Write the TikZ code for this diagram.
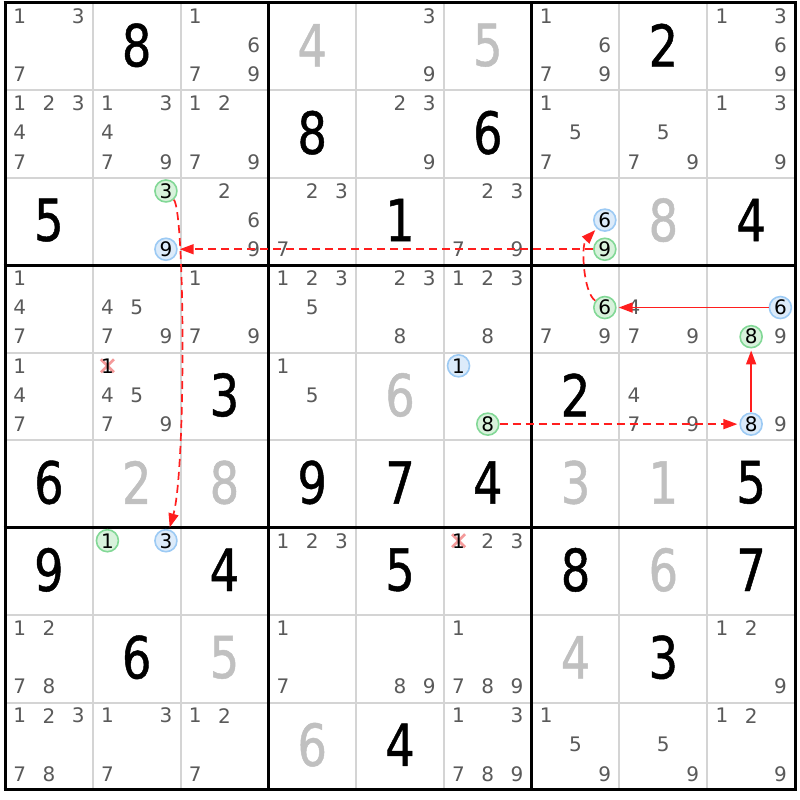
\documentclass[tikz,border=0pt]{standalone}
\usepackage{fontspec}
\setmainfont{DejaVu Sans}
\newfontfamily\bigfont[FakeStretch=0.8,FakeBold=0.8]{DejaVu Sans}
\usetikzlibrary{arrows.meta,calc}
\definecolor{candgray}{HTML}{5A5A5A}
\definecolor{solvedgray}{HTML}{C0C0C0}
\definecolor{thingray}{HTML}{D4D4D4}
\definecolor{bluefill}{HTML}{DCEBFA}
\definecolor{bluedraw}{HTML}{9CCAF4}
\definecolor{greenfill}{HTML}{D8F2DC}
\definecolor{greendraw}{HTML}{82D896}
\definecolor{linkred}{HTML}{FF1E1E}
\definecolor{crosspink}{HTML}{F49A9A}
\newcommand\cpos[3]{%
  \pgfmathsetmacro\cx{5+(#2-1)*87.78+(2*mod(#3-1,3)+1)*87.78/6}%
  \pgfmathsetmacro\cy{3+(#1-1)*87.44+(2*floor((#3-1)/3)+1)*87.44/6-1.5}}
\newcommand\cands[3]{\foreach \k in {#3}{\cpos{#1}{#2}{\k}\node[cand] (c#1#2\k) at (\cx,\cy) {\k};}}
\newcommand\gdig[4]{%
  \pgfmathsetmacro\cx{5+(#2-0.5)*87.78}%
  \pgfmathsetmacro\cy{3+(#1-0.5)*87.44-1.5}%
  \node[#4] (d#1#2) at (\cx,\cy) {#3};}
\newcommand\mcand[5]{\cpos{#1}{#2}{#3}\node[#4] (#5) at (\cx,\cy) {#3};}
\newcommand\xcand[3]{\cpos{#1}{#2}{#3}%
  \draw[crossx] (\cx-6.5,\cy-6.5) -- (\cx+6.5,\cy+6.5) (\cx-6.5,\cy+6.5) -- (\cx+6.5,\cy-6.5);
  \node[cand,text=black] (x#1#2) at (\cx,\cy) {#3};}
\begin{document}
\begin{tikzpicture}[x=1pt,y=-1pt,
  cand/.style={font=\fontsize{20}{20}\selectfont, text=candgray, inner sep=0pt},
  given/.style={font=\bigfont\fontsize{58}{58}\selectfont, text=black, inner sep=0pt},
  solved/.style={given, text=solvedgray},
  bluec/.style={circle, draw=bluedraw, fill=bluefill, line width=1.6pt, minimum size=22pt, inner sep=0pt, font=\fontsize{20}{20}\selectfont, text=black},
  greenc/.style={bluec, draw=greendraw, fill=greenfill},
  crossx/.style={draw=crosspink, line width=2.8pt},
  thinline/.style={draw=thingray, line width=2pt},
  thickline/.style={draw=black, line width=3pt},
  link/.style={color=linkred, line width=1.7pt, -{Triangle[length=14pt,width=10pt]}, shorten >=2pt},
  dlink/.style={link, dash pattern=on 8pt off 5pt}]
\fill[white] (0,0) rectangle (800,800);
\useasboundingbox (0,0) rectangle (800,800);
% grid
\foreach \i in {1,2,4,5,7,8}{
  \draw[thinline] (5+\i*87.78,3) -- (5+\i*87.78,789.96);
  \draw[thinline] (5,3+\i*87.44) -- (794.02,3+\i*87.44);}
\foreach \i in {0,3,6,9}{
  \draw[thickline] (5+\i*87.78,1.5) -- (5+\i*87.78,791.46);
  \draw[thickline] (3.5,3+\i*87.44) -- (795.52,3+\i*87.44);}
% givens (black) and solved (gray)
\gdig{1}{2}{8}{given}\gdig{1}{8}{2}{given}\gdig{2}{4}{8}{given}\gdig{2}{6}{6}{given}
\gdig{3}{1}{5}{given}\gdig{3}{5}{1}{given}\gdig{3}{9}{4}{given}\gdig{5}{3}{3}{given}
\gdig{5}{7}{2}{given}\gdig{6}{1}{6}{given}\gdig{6}{4}{9}{given}\gdig{6}{5}{7}{given}
\gdig{6}{6}{4}{given}\gdig{6}{9}{5}{given}\gdig{7}{1}{9}{given}\gdig{7}{3}{4}{given}
\gdig{7}{5}{5}{given}\gdig{7}{7}{8}{given}\gdig{7}{9}{7}{given}\gdig{8}{2}{6}{given}
\gdig{8}{8}{3}{given}\gdig{9}{5}{4}{given}
\gdig{1}{4}{4}{solved}\gdig{1}{6}{5}{solved}\gdig{3}{8}{8}{solved}\gdig{5}{5}{6}{solved}
\gdig{6}{2}{2}{solved}\gdig{6}{3}{8}{solved}\gdig{6}{7}{3}{solved}\gdig{6}{8}{1}{solved}
\gdig{7}{8}{6}{solved}\gdig{8}{3}{5}{solved}\gdig{8}{7}{4}{solved}\gdig{9}{4}{6}{solved}
% candidates
\cands{1}{1}{1,3,7}\cands{1}{3}{1,6,7,9}\cands{1}{5}{3,9}\cands{1}{7}{1,6,7,9}\cands{1}{9}{1,3,6,9}
\cands{2}{1}{1,2,3,4,7}\cands{2}{2}{1,3,4,7,9}\cands{2}{3}{1,2,7,9}\cands{2}{5}{2,3,9}
\cands{2}{7}{1,5,7}\cands{2}{8}{5,7,9}\cands{2}{9}{1,3,9}
\cands{3}{3}{2,6,9}\cands{3}{4}{2,3,7}\cands{3}{6}{2,3,7,9}
\cands{4}{1}{1,4,7}\cands{4}{2}{4,5,7,9}\cands{4}{3}{1,7,9}\cands{4}{4}{1,2,3,5}
\cands{4}{5}{2,3,8}\cands{4}{6}{1,2,3,8}\cands{4}{7}{7,9}\cands{4}{8}{4,7,9}\cands{4}{9}{9}
\cands{5}{1}{1,4,7}\cands{5}{2}{4,5,7,9}\cands{5}{4}{1,5}\cands{5}{8}{4,7,9}\cands{5}{9}{9}
\cands{7}{4}{1,2,3}\cands{7}{6}{2,3}
\cands{8}{1}{1,2,7,8}\cands{8}{4}{1,7}\cands{8}{5}{8,9}\cands{8}{6}{1,7,8,9}\cands{8}{9}{1,2,9}
\cands{9}{1}{1,2,3,7,8}\cands{9}{2}{1,3,7}\cands{9}{3}{1,2,7}\cands{9}{6}{1,3,7,8,9}
\cands{9}{7}{1,5,9}\cands{9}{8}{5,9}\cands{9}{9}{1,2,9}
% eliminated candidates
\xcand{5}{2}{1}\xcand{7}{6}{1}
% highlighted candidates
\mcand{3}{2}{9}{bluec}{b32}\mcand{3}{2}{3}{greenc}{g32}
\mcand{3}{7}{6}{bluec}{b37}\mcand{3}{7}{9}{greenc}{g37}
\mcand{4}{7}{6}{greenc}{g47}
\mcand{4}{9}{6}{bluec}{b49}\mcand{4}{9}{8}{greenc}{g49}
\mcand{5}{6}{1}{bluec}{b56}\mcand{5}{6}{8}{greenc}{g56}
\mcand{5}{9}{8}{bluec}{b59}
\mcand{7}{2}{3}{bluec}{b72}\mcand{7}{2}{1}{greenc}{g72}
% links
\draw[dlink] (g37) -- (b32);
\draw[dlink] (g32) .. controls (185,212) and (186,470) .. (b72);
\draw[dlink] (g47) .. controls (583,292) and (581,245) .. (b37);
\draw[link] (b49) -- (g47);
\draw[link] (b59) -- (g49);
\draw[dlink] (g56) -- (b59);
\end{tikzpicture}
\end{document}
